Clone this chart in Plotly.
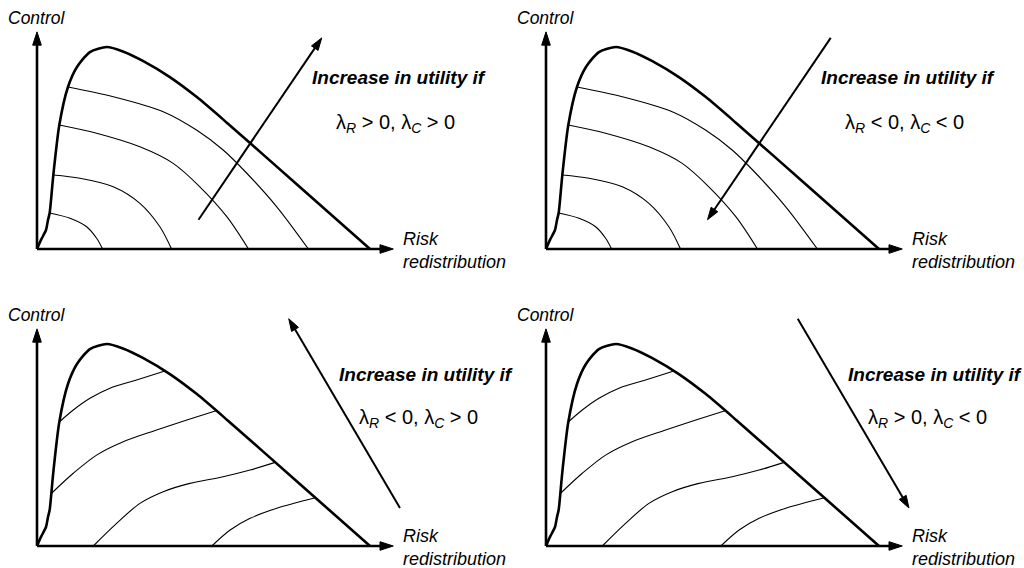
import plotly.graph_objects as go

# ---------------- data (schematic units: risk 0..100 at frontier end, control 0..100 at peak) ----
frontier_risk = [0, 1.2, 2.7, 3.3, 3.8, 4.9, 6.7, 9.3, 12.0, 15.9, 21.0, 25.8, 31.8, 39.9, 48.0, 57.1, 78.5, 100]
frontier_control = [0, 4.5, 9.4, 14.4, 17.8, 36.6, 61.4, 80.2, 90.1, 97.5, 100, 97.8, 93.1, 85.1, 75.2, 62.4, 31.3, 0]

# iso-utility curves, top panels (concave)
iso_top_risk = [
    [3.8, 9.9, 14.9, 17.9, 19.7],
    [4.9, 12.9, 22.9, 30.9, 36.9, 40.4],
    [6.7, 17.9, 30.9, 40.9, 48.9, 57.0, 63.5],
    [9.3, 22.9, 37.9, 47.9, 55.9, 63.0, 72.0, 81.5],
]
iso_top_control = [
    [17.8, 15.2, 11.0, 5.3, 0],
    [36.6, 35.0, 30.8, 22.6, 11.0, 0],
    [61.4, 57.3, 50.6, 42.4, 30.8, 16.0, 0],
    [80.2, 75.4, 68.0, 58.9, 49.0, 37.5, 20.9, 0],
]
# iso-utility curves, bottom panels (rising)
iso_bot_risk = [
    [6.7, 10.9, 15.9, 21.9, 29.9, 38.4],
    [4.3, 10.9, 17.9, 25.9, 35.9, 45.0, 53.8],
    [16.9, 23.9, 30.9, 37.9, 45.9, 55.9, 64.0, 71.5],
    [52.5, 58.0, 64.0, 72.0, 83.6],
]
iso_bot_control = [
    [61.4, 67.3, 73.1, 78.1, 82.2, 86.6],
    [26.0, 36.0, 45.0, 51.6, 57.4, 62.4, 67.0],
    [0, 11.2, 21.1, 26.9, 31.0, 34.3, 37.6, 41.4],
    [0, 7.9, 13.7, 18.7, 23.9],
]

# direction of increasing utility (tail -> head) per panel
arrow_tail = [(48.5, 14.5), (85.5, 104.5), (109.0, 18.8), (75.6, 112.5)]
arrow_head = [(85.5, 104.5), (48.5, 14.5), (75.6, 112.5), (109.0, 18.8)]
# axis arrow ends
axis_x_end = (107.0, 0.0)
axis_y_end = (0.0, 107.5)

headline = "Increase in utility if"
lambda_labels = [
    "λ<sub><i>R</i></sub> &gt; 0, λ<sub><i>C</i></sub> &gt; 0",
    "λ<sub><i>R</i></sub> &lt; 0, λ<sub><i>C</i></sub> &lt; 0",
    "λ<sub><i>R</i></sub> &lt; 0, λ<sub><i>C</i></sub> &gt; 0",
    "λ<sub><i>R</i></sub> &gt; 0, λ<sub><i>C</i></sub> &lt; 0",
]
y_label = "Control"
x_label = "Risk<br>redistribution"

# ---------------- layout geometry ----------------
W, H = 1024, 568
origins = [(37, 249), (546, 249), (37, 546), (546, 546)]
SX, SY = 3.33, 2.02
XR = [-10, 128]
YR = [-8, 118]
FONT = "Liberation Sans, Arial, sans-serif"


def arrow(x0, y0, x1, y1, width, size, xr, yr):
    return go.Scatter(x=[x0, x1], y=[y0, y1], mode="lines+markers", xaxis=xr, yaxis=yr,
                      line=dict(color="black", width=width),
                      marker=dict(symbol="arrow", size=[0, size], angleref="previous",
                                  color="black", opacity=1, line=dict(width=1, color="black")),
                      hoverinfo="skip", showlegend=False)


fig = go.Figure()
annotations = []
for i, (ox, oy) in enumerate(origins):
    n = "" if i == 0 else str(i + 1)
    xd = [(ox + XR[0] * SX) / W, (ox + XR[1] * SX) / W]
    yd = [1 - (oy - YR[0] * SY) / H, 1 - (oy - YR[1] * SY) / H]
    fig.layout["xaxis" + n] = dict(domain=xd, range=XR, visible=False, anchor="y" + n, fixedrange=True)
    fig.layout["yaxis" + n] = dict(domain=yd, range=YR, visible=False, anchor="x" + n, fixedrange=True)
    xr, yr = "x" + n, "y" + n

    top = i < 2
    rs = iso_top_risk if top else iso_bot_risk
    cs = iso_top_control if top else iso_bot_control
    for rx, cy in zip(rs, cs):
        fig.add_trace(go.Scatter(x=rx, y=cy, mode="lines", xaxis=xr, yaxis=yr,
                                 line=dict(color="black", width=1.1, shape="spline", smoothing=0.9),
                                 hoverinfo="skip", showlegend=False))
    fig.add_trace(go.Scatter(x=frontier_risk, y=frontier_control, mode="lines", xaxis=xr, yaxis=yr,
                             line=dict(color="black", width=2.6, shape="spline", smoothing=0.7),
                             hoverinfo="skip", showlegend=False))

    # axes with arrowheads
    fig.add_trace(arrow(0, 0, axis_x_end[0], axis_x_end[1], 2.6, 14, xr, yr))
    fig.add_trace(arrow(0, 0, axis_y_end[0], axis_y_end[1], 2.6, 14, xr, yr))
    # utility direction arrow
    (tx, ty), (hx, hy) = arrow_tail[i], arrow_head[i]
    fig.add_trace(arrow(tx, ty, hx, hy, 2.0, 13, xr, yr))

    # texts
    hx0 = 82.2 if top else 90.5
    lx0 = 89.5 if top else 96.5
    ly0 = 62.0 if top else 63.0
    annotations.append(dict(x=hx0, y=84.7, xref=xr, yref=yr, text="<b><i>" + headline + "</i></b>",
                            showarrow=False, xanchor="left", yanchor="middle", borderpad=0,
                            font=dict(family=FONT, size=19, color="black")))
    annotations.append(dict(x=lx0, y=ly0, xref=xr, yref=yr, text=lambda_labels[i],
                            showarrow=False, xanchor="left", yanchor="middle", borderpad=0,
                            font=dict(family=FONT, size=20, color="black")))
    annotations.append(dict(x=-8.9, y=114.4, xref=xr, yref=yr, text="<i>" + y_label + "</i>",
                            showarrow=False, xanchor="left", yanchor="middle", borderpad=0,
                            font=dict(family=FONT, size=17.5, color="black")))
    annotations.append(dict(x=109.6, y=-0.5, xref=xr, yref=yr, text="<i>" + x_label + "</i>",
                            showarrow=False, xanchor="left", yanchor="middle", align="left", borderpad=0,
                            font=dict(family=FONT, size=18, color="black")))

fig.update_layout(width=W, height=H, margin=dict(l=0, r=0, t=0, b=0),
                  paper_bgcolor="white", plot_bgcolor="white", showlegend=False,
                  annotations=annotations)
fig.write_html("out.html", config={"displayModeBar": False},
               post_script="document.body.style.margin='0px';document.body.style.overflow='hidden';")
